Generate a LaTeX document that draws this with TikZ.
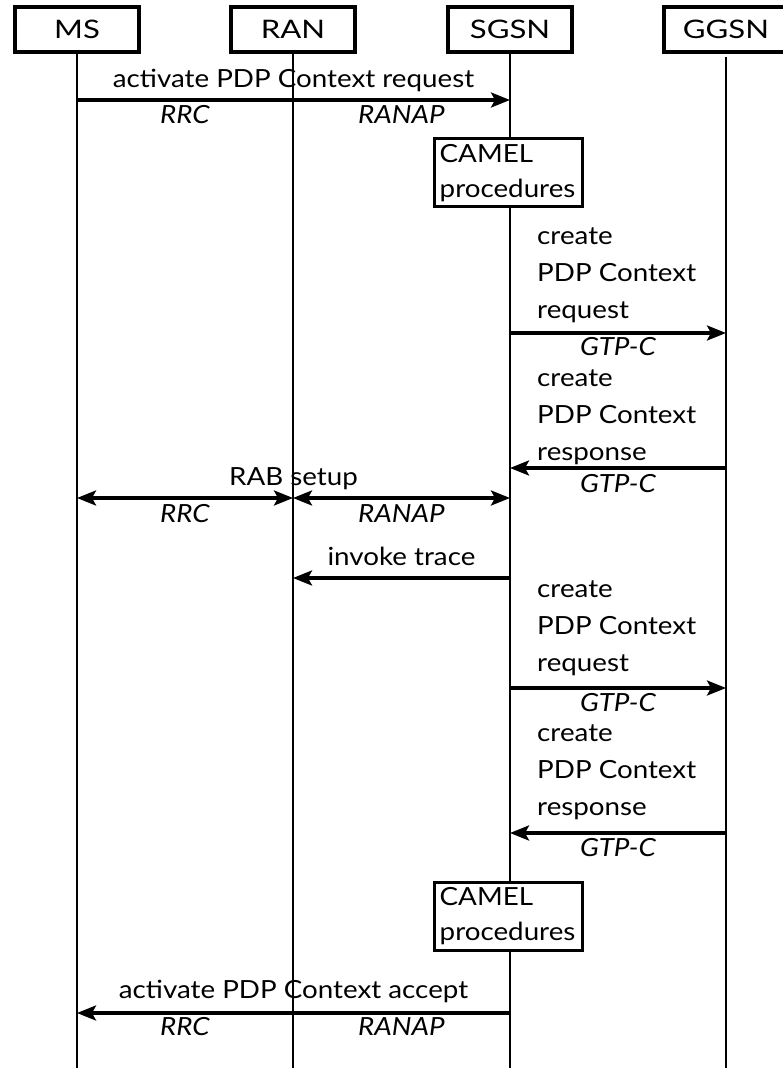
\documentclass[tikz,border=0pt]{standalone}
\usepackage{fontspec}
\setmainfont[FakeStretch=1.11]{Lato}
\newfontfamily\hdrfam[FakeStretch=1.22]{Lato}
\usetikzlibrary{arrows.meta}
\newcommand\msgfont{\fontsize{25}{36.8}\selectfont}
\newcommand\boxfont{\fontsize{25}{35}\selectfont}
\newcommand\hdrfont{\hdrfam\fontsize{25.5}{30}\selectfont}
\begin{document}
\begin{tikzpicture}[x=1pt,y=-1pt,
  tip/.tip={Stealth[length=19pt,width=15pt,inset=4pt]},
  hdr/.style={draw, line width=3.6pt, minimum width=124pt, minimum height=45pt,
    inner sep=0pt, font=\hdrfont},
  life/.style={line width=1.5pt},
  msg/.style={line width=3.2pt, -tip},
  dmsg/.style={line width=3.2pt, tip-tip},
  lbl/.style={inner sep=0pt, anchor=base, font=\msgfont},
  proto/.style={lbl, font=\msgfont\itshape},
  multi/.style={lbl, anchor=base west, align=left},
  camel/.style={draw, fill=white, line width=3.4pt, anchor=north west, align=left,
    text width=138pt, minimum height=68pt, inner xsep=5pt, inner ysep=5pt,
    font=\boxfont}
]
\useasboundingbox (0,0) rectangle (782,1068);
\fill[white] (0,0) rectangle (782,1068);

% entities
\node[hdr] (ms)   at (77,29.5)  {MS};
\node[hdr] (ran)  at (293,29.5) {RAN};
\node[hdr] (sgsn) at (510,29.5) {SGSN};
\node[hdr] (ggsn) at (726,29.5) {GGSN};
\coordinate (bot) at (0,1068);

% lifelines
\foreach \n in {ms,ran,sgsn}
  \draw[life] (\n.south) -- (\n.south |- bot);
\draw[life, shorten <=3pt] (ggsn.south) -- (ggsn.south |- bot);

% activate PDP context request
\coordinate (a1) at (ms |- 0,100);
\coordinate (a2) at (sgsn |- 0,100);
\draw[msg] (a1) -- (a2);
\node[lbl] (t1) at (293.5,87) {activate PDP Context request};
\node[proto] (p1a) at (185,123) {RRC};
\node[proto] (p1b) at (401.5,123) {RANAP};

% CAMEL procedures
\node[camel] (c1) at (433,137) {CAMEL\\procedures};

% create PDP context request / response
\coordinate (b1) at (sgsn |- 0,333);
\coordinate (b2) at (ggsn |- 0,333);
\draw[msg] (b1) -- (b2);
\node[multi] (t2) at (537,318) {create\\PDP Context\\request};
\node[proto] (p2) at (618,355) {GTP-C};

\coordinate (c3) at (ggsn |- 0,468);
\coordinate (c4) at (sgsn |- 0,468);
\draw[msg] (c3) -- (c4);
\node[multi] (t3) at (537,460) {create\\PDP Context\\response};
\node[proto] (p3) at (618,492) {GTP-C};

% RAB setup
\coordinate (d1) at (ms |- 0,498);
\coordinate (d2) at (ran |- 0,498);
\coordinate (d3) at (sgsn |- 0,498);
\draw[dmsg] (d1) -- (d2);
\draw[dmsg] (d2) -- (d3);
\node[lbl] (t4) at (293.5,485) {RAB setup};
\node[proto] (p4a) at (185,522) {RRC};
\node[proto] (p4b) at (401.5,522) {RANAP};

% invoke trace
\coordinate (e1) at (sgsn |- 0,578);
\coordinate (e2) at (ran |- 0,578);
\draw[msg] (e1) -- (e2);
\node[lbl] (t5) at (401.5,565) {invoke trace};

% create PDP context request / response (second)
\coordinate (f1) at (sgsn |- 0,688);
\coordinate (f2) at (ggsn |- 0,688);
\draw[msg] (f1) -- (f2);
\node[multi] (t6) at (537,671) {create\\PDP Context\\request};
\node[proto] (p6) at (618,711) {GTP-C};

\coordinate (g1) at (ggsn |- 0,833);
\coordinate (g2) at (sgsn |- 0,833);
\draw[msg] (g1) -- (g2);
\node[multi] (t7) at (537,815) {create\\PDP Context\\response};
\node[proto] (p7) at (618,856) {GTP-C};

% CAMEL procedures (second)
\node[camel] (c2) at (433,880.5) {CAMEL\\procedures};

% activate PDP context accept
\coordinate (h1) at (sgsn |- 0,1013);
\coordinate (h2) at (ms |- 0,1013);
\draw[msg] (h1) -- (h2);
\node[lbl] (t8) at (293.5,998) {activate PDP Context accept};
\node[proto] (p8a) at (185,1035) {RRC};
\node[proto] (p8b) at (401.5,1035) {RANAP};
\end{tikzpicture}
\end{document}
